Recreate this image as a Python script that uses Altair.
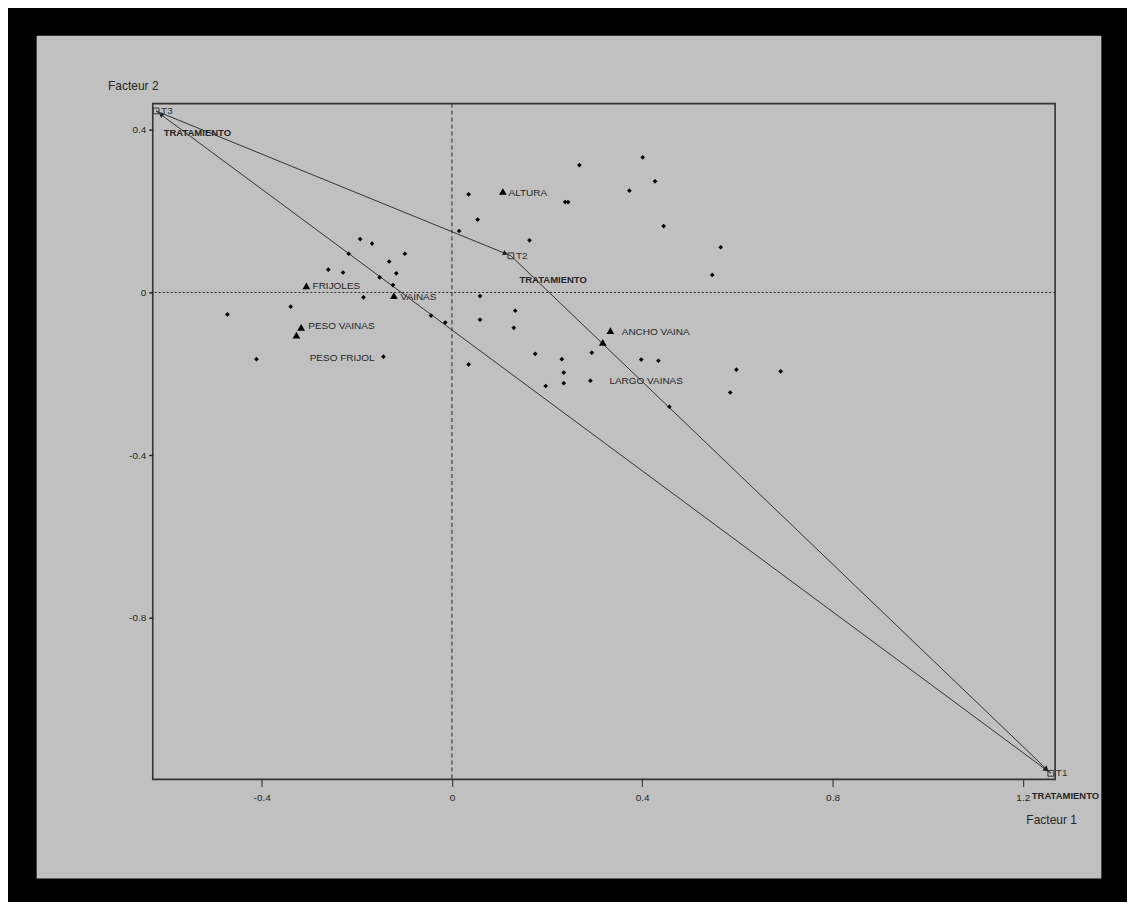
import math
import altair as alt
import pandas as pd

# ---------------- data ----------------
obs_x = [0.268, 0.401, 0.427, 0.373, 0.035, 0.238, 0.244, 0.054, 0.445, 0.015,
         0.163, 0.565, 0.547, -0.099, -0.132, -0.117, -0.124, -0.152, 0.059, 0.133,
         0.059, 0.130, -0.044, -0.014, -0.144, 0.035, 0.175, 0.231, 0.294, 0.235,
         0.235, 0.197, 0.291, 0.398, 0.434, 0.457, 0.598, 0.585, 0.691, -0.193,
         -0.168, -0.217, -0.260, -0.229, -0.186, -0.339, -0.472, -0.411]
obs_y = [0.313, 0.332, 0.273, 0.250, 0.241, 0.222, 0.222, 0.179, 0.163, 0.151,
         0.128, 0.111, 0.043, 0.095, 0.076, 0.047, 0.018, 0.037, -0.009, -0.045,
         -0.067, -0.087, -0.057, -0.074, -0.158, -0.177, -0.151, -0.164, -0.148, -0.197,
         -0.223, -0.230, -0.217, -0.165, -0.168, -0.281, -0.190, -0.246, -0.194, 0.131,
         0.120, 0.095, 0.056, 0.049, -0.012, -0.035, -0.054, -0.164]

var_names = ["ALTURA", "ANCHO VAINA", "LARGO VAINAS", "FRIJOLES", "VAINAS",
             "PESO VAINAS", "PESO FRIJOL"]
var_x = [0.107, 0.333, 0.317, -0.306, -0.122, -0.317, -0.327]
var_y = [0.248, -0.094, -0.123, 0.016, -0.008, -0.086, -0.105]
var_label_x = [0.119, 0.357, 0.331, -0.293, -0.108, -0.302, -0.299]
var_label_y = [0.245, -0.098, -0.217, 0.016, -0.011, -0.082, -0.160]

trt_names = ["T1", "T2", "T3"]
trt_x = [1.259, 0.124, -0.622]
trt_y = [-1.182, 0.090, 0.446]
trt_group = "TRATAMIENTO"
trt_group_x = [1.219, 0.142, -0.606]
trt_group_y = [-1.237, 0.030, 0.392]

link_from = ["T3", "T2", "T1"]
link_to = ["T2", "T1", "T3"]
arrow_from = ["T3", "T2", "T1", "T3"]
arrow_to = ["T2", "T1", "T3", "T1"]

x_ticks = [-0.4, 0, 0.4, 0.8, 1.2]
y_ticks = [0.4, 0, -0.4, -0.8]
x_title = "Facteur 1"
y_title = "Facteur 2"

# ---------------- layout / style ----------------
X_DOMAIN = [-0.629, 1.268]
Y_DOMAIN = [-1.197, 0.464]
W, H = 904, 677
FONT = "Liberation Sans Narrow, Arial Narrow, Liberation Sans, Arial, sans-serif"
INK = "#262626"
GRAY = "#c0c0c0"

xs = alt.Scale(domain=X_DOMAIN, nice=False, zero=False)
ys = alt.Scale(domain=Y_DOMAIN, nice=False, zero=False)

x_axis = alt.Axis(values=x_ticks, grid=False, domain=False, tickColor=INK, tickSize=7,
                  tickWidth=1, labelFont=FONT, labelFontSize=10, labelColor=INK,
                  labelPadding=6, labelExpr="'' + datum.value",
                  title=x_title, titleFont=FONT, titleFontSize=12, titleFontWeight="normal",
                  titleColor=INK, titleX=900, titleY=40, titleAlign="center",
                  titleBaseline="middle", titleAngle=0, zindex=1)
y_axis = alt.Axis(values=y_ticks, grid=False, domain=False, tickColor=INK, tickSize=4,
                  tickWidth=1.5, labelFont=FONT, labelFontSize=10, labelColor=INK,
                  labelPadding=3, labelExpr="'' + datum.value",
                  title=y_title, titleFont=FONT, titleFontSize=12, titleFontWeight="normal",
                  titleColor=INK, titleX=-20, titleY=-18, titleAlign="center",
                  titleBaseline="middle", titleAngle=0, zindex=1)


def X(field):
    return alt.X(field, type="quantitative", scale=xs, axis=x_axis)


def Y(field):
    return alt.Y(field, type="quantitative", scale=ys, axis=y_axis)


obs = pd.DataFrame({"x": obs_x, "y": obs_y})
var = pd.DataFrame({"name": var_names, "x": var_x, "y": var_y,
                    "lx": var_label_x, "ly": var_label_y})
trt = pd.DataFrame({"name": trt_names, "x": trt_x, "y": trt_y,
                    "gx": trt_group_x, "gy": trt_group_y, "g": [trt_group] * 3})
pos = {n: (a, b) for n, a, b in zip(trt_names, trt_x, trt_y)}
links = pd.DataFrame({
    "x": [pos[a][0] for a in link_from], "y": [pos[a][1] for a in link_from],
    "x2": [pos[b][0] for b in link_to], "y2": [pos[b][1] for b in link_to],
})

one = alt.Data(values=[{}])

background_panel = alt.Chart(one).mark_rect(color=GRAY).encode(
    x=alt.value(-116.3), x2=alt.value(950.3), y=alt.value(-68), y2=alt.value(776.3))

vzero = alt.Chart(one).mark_rule(color=INK, strokeDash=[4, 3], strokeWidth=1).encode(
    x=alt.XDatum(0, scale=xs, axis=x_axis))
hzero = alt.Chart(one).mark_rule(color=INK, strokeDash=[2, 2], strokeWidth=1).encode(
    y=alt.YDatum(0, scale=ys, axis=y_axis))

link_lines = alt.Chart(links).mark_rule(color="#333333", strokeWidth=1).encode(
    x=X("x"), y=Y("y"), x2="x2", y2="y2")

dots = alt.Chart(obs).mark_point(shape="diamond", size=22, filled=True,
                                 color="black", opacity=1).encode(x=X("x"), y=Y("y"))

tri = alt.Chart(var).mark_point(shape="triangle-up", size=60, filled=True,
                                color="black", opacity=1).encode(x=X("x"), y=Y("y"))
var_text = alt.Chart(var).mark_text(font=FONT, fontSize=10, color=INK, align="left",
                                    baseline="middle").encode(
    x=X("lx"), y=Y("ly"), text="name")

squares = alt.Chart(trt).mark_point(shape="square", size=34, filled=False,
                                    color="#333333", strokeWidth=1, opacity=1).encode(
    x=X("x"), y=Y("y"))
trt_text = alt.Chart(trt).mark_text(font=FONT, fontSize=10, color="#333333", align="left",
                                    baseline="middle", dx=5).encode(
    x=X("x"), y=Y("y"), text="name")
grp_text = alt.Chart(trt).mark_text(font=FONT, fontSize=9.5, fontWeight="bold", color=INK,
                                    align="left", baseline="middle").encode(
    x=X("gx"), y=Y("gy"), text="g")

sx = W / (X_DOMAIN[1] - X_DOMAIN[0])
sy = H / (Y_DOMAIN[1] - Y_DOMAIN[0])
arrow_layers = []
for a, b in zip(arrow_from, arrow_to):
    dxs = (pos[b][0] - pos[a][0]) * sx
    dys = -(pos[b][1] - pos[a][1]) * sy
    L = math.hypot(dxs, dys)
    ang = math.degrees(math.atan2(dxs, -dys)) % 360
    head = pd.DataFrame({"x": [pos[b][0]], "y": [pos[b][1]]})
    arrow_layers.append(
        alt.Chart(head).mark_point(shape="triangle-up", size=30, filled=True,
                                   color="#222222", opacity=1, angle=ang,
                                   xOffset=-6 * dxs / L, yOffset=-6 * dys / L).encode(
            x=X("x"), y=Y("y")))

frame = alt.Chart(one).mark_rect(fillOpacity=0, stroke="#333333", strokeWidth=1.6).encode(
    x=alt.value(0), x2=alt.value(W), y=alt.value(0), y2=alt.value(H))

chart = alt.layer(
    background_panel, vzero, hzero, link_lines, dots, tri, var_text,
    squares, *arrow_layers, trt_text, grp_text, frame
).properties(
    width=W, height=H, background="black",
    padding={"left": 145, "top": 95, "right": 72, "bottom": 122},
    autosize=alt.AutoSizeParams(type="none"),
).configure_view(stroke=None)

chart.save("out.html", embed_options={"renderer": "svg", "actions": False})
